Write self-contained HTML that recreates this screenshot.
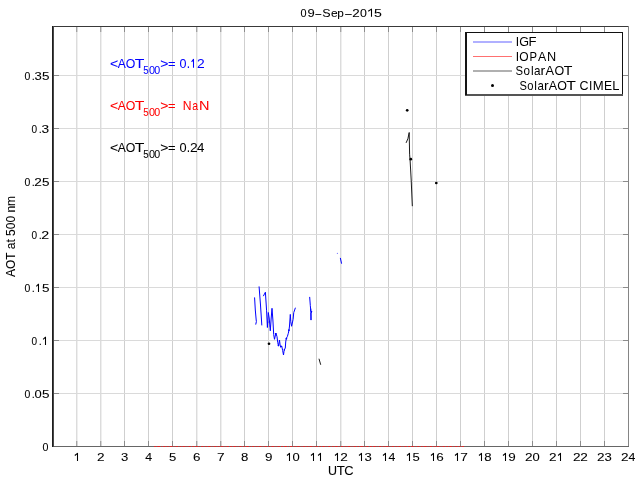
<!DOCTYPE html><html><head><meta charset="utf-8"><style>html,body{margin:0;padding:0;background:#fff;width:640px;height:480px;overflow:hidden}svg{display:block;will-change:transform}text{font-family:"Liberation Sans",sans-serif}</style></head><body>
<svg width="640" height="480" viewBox="0 0 640 480">
<rect x="0" y="0" width="640" height="480" fill="#fff"/>
<rect x="76.0" y="26" width="1" height="420" fill="#dcdcdc"/><rect x="77.0" y="26" width="1" height="420" fill="#efefef"/>
<rect x="100.0" y="26" width="1" height="420" fill="#dcdcdc"/><rect x="101.0" y="26" width="1" height="420" fill="#efefef"/>
<line x1="124.5" y1="26" x2="124.5" y2="446" stroke="#cfcfcf" stroke-width="1"/>
<line x1="148.5" y1="26" x2="148.5" y2="446" stroke="#cfcfcf" stroke-width="1"/>
<line x1="172.5" y1="26" x2="172.5" y2="446" stroke="#cfcfcf" stroke-width="1"/>
<rect x="196.0" y="26" width="1" height="420" fill="#dcdcdc"/><rect x="197.0" y="26" width="1" height="420" fill="#efefef"/>
<rect x="220.0" y="26" width="1" height="420" fill="#dcdcdc"/><rect x="221.0" y="26" width="1" height="420" fill="#efefef"/>
<line x1="244.5" y1="26" x2="244.5" y2="446" stroke="#cfcfcf" stroke-width="1"/>
<line x1="268.5" y1="26" x2="268.5" y2="446" stroke="#cfcfcf" stroke-width="1"/>
<line x1="292.5" y1="26" x2="292.5" y2="446" stroke="#cfcfcf" stroke-width="1"/>
<line x1="316.5" y1="26" x2="316.5" y2="446" stroke="#cfcfcf" stroke-width="1"/>
<rect x="340.0" y="26" width="1" height="420" fill="#dcdcdc"/><rect x="341.0" y="26" width="1" height="420" fill="#efefef"/>
<line x1="364.5" y1="26" x2="364.5" y2="446" stroke="#cfcfcf" stroke-width="1"/>
<line x1="388.5" y1="26" x2="388.5" y2="446" stroke="#cfcfcf" stroke-width="1"/>
<line x1="412.5" y1="26" x2="412.5" y2="446" stroke="#cfcfcf" stroke-width="1"/>
<line x1="436.5" y1="26" x2="436.5" y2="446" stroke="#cfcfcf" stroke-width="1"/>
<line x1="460.5" y1="26" x2="460.5" y2="446" stroke="#cfcfcf" stroke-width="1"/>
<line x1="484.5" y1="26" x2="484.5" y2="446" stroke="#cfcfcf" stroke-width="1"/>
<line x1="508.5" y1="26" x2="508.5" y2="446" stroke="#cfcfcf" stroke-width="1"/>
<line x1="532.5" y1="26" x2="532.5" y2="446" stroke="#cfcfcf" stroke-width="1"/>
<line x1="556.5" y1="26" x2="556.5" y2="446" stroke="#cfcfcf" stroke-width="1"/>
<line x1="580.5" y1="26" x2="580.5" y2="446" stroke="#cfcfcf" stroke-width="1"/>
<line x1="604.5" y1="26" x2="604.5" y2="446" stroke="#cfcfcf" stroke-width="1"/>
<line x1="53" y1="393.5" x2="628" y2="393.5" stroke="#dadada" stroke-width="1"/>
<line x1="53" y1="340.5" x2="628" y2="340.5" stroke="#dadada" stroke-width="1"/>
<line x1="53" y1="287.5" x2="628" y2="287.5" stroke="#dadada" stroke-width="1"/>
<line x1="53" y1="234.5" x2="628" y2="234.5" stroke="#dadada" stroke-width="1"/>
<line x1="53" y1="181.5" x2="628" y2="181.5" stroke="#dadada" stroke-width="1"/>
<line x1="53" y1="128.5" x2="628" y2="128.5" stroke="#dadada" stroke-width="1"/>
<line x1="53" y1="75.5" x2="628" y2="75.5" stroke="#dadada" stroke-width="1"/>
<rect x="76.0" y="27" width="1" height="5" fill="#a4a4a4"/><rect x="77.0" y="27" width="1" height="5" fill="#d6d6d6"/>
<rect x="76.0" y="441" width="1" height="5" fill="#a4a4a4"/><rect x="77.0" y="441" width="1" height="5" fill="#d6d6d6"/>
<rect x="100.0" y="27" width="1" height="5" fill="#a4a4a4"/><rect x="101.0" y="27" width="1" height="5" fill="#d6d6d6"/>
<rect x="100.0" y="441" width="1" height="5" fill="#a4a4a4"/><rect x="101.0" y="441" width="1" height="5" fill="#d6d6d6"/>
<line x1="124.5" y1="27" x2="124.5" y2="32" stroke="#8c8c8c" stroke-width="1"/>
<line x1="124.5" y1="441" x2="124.5" y2="446" stroke="#8c8c8c" stroke-width="1"/>
<line x1="148.5" y1="27" x2="148.5" y2="32" stroke="#8c8c8c" stroke-width="1"/>
<line x1="148.5" y1="441" x2="148.5" y2="446" stroke="#8c8c8c" stroke-width="1"/>
<line x1="172.5" y1="27" x2="172.5" y2="32" stroke="#8c8c8c" stroke-width="1"/>
<line x1="172.5" y1="441" x2="172.5" y2="446" stroke="#8c8c8c" stroke-width="1"/>
<rect x="196.0" y="27" width="1" height="5" fill="#a4a4a4"/><rect x="197.0" y="27" width="1" height="5" fill="#d6d6d6"/>
<rect x="196.0" y="441" width="1" height="5" fill="#a4a4a4"/><rect x="197.0" y="441" width="1" height="5" fill="#d6d6d6"/>
<rect x="220.0" y="27" width="1" height="5" fill="#a4a4a4"/><rect x="221.0" y="27" width="1" height="5" fill="#d6d6d6"/>
<rect x="220.0" y="441" width="1" height="5" fill="#a4a4a4"/><rect x="221.0" y="441" width="1" height="5" fill="#d6d6d6"/>
<line x1="244.5" y1="27" x2="244.5" y2="32" stroke="#8c8c8c" stroke-width="1"/>
<line x1="244.5" y1="441" x2="244.5" y2="446" stroke="#8c8c8c" stroke-width="1"/>
<line x1="268.5" y1="27" x2="268.5" y2="32" stroke="#8c8c8c" stroke-width="1"/>
<line x1="268.5" y1="441" x2="268.5" y2="446" stroke="#8c8c8c" stroke-width="1"/>
<line x1="292.5" y1="27" x2="292.5" y2="32" stroke="#8c8c8c" stroke-width="1"/>
<line x1="292.5" y1="441" x2="292.5" y2="446" stroke="#8c8c8c" stroke-width="1"/>
<line x1="316.5" y1="27" x2="316.5" y2="32" stroke="#8c8c8c" stroke-width="1"/>
<line x1="316.5" y1="441" x2="316.5" y2="446" stroke="#8c8c8c" stroke-width="1"/>
<rect x="340.0" y="27" width="1" height="5" fill="#a4a4a4"/><rect x="341.0" y="27" width="1" height="5" fill="#d6d6d6"/>
<rect x="340.0" y="441" width="1" height="5" fill="#a4a4a4"/><rect x="341.0" y="441" width="1" height="5" fill="#d6d6d6"/>
<line x1="364.5" y1="27" x2="364.5" y2="32" stroke="#8c8c8c" stroke-width="1"/>
<line x1="364.5" y1="441" x2="364.5" y2="446" stroke="#8c8c8c" stroke-width="1"/>
<line x1="388.5" y1="27" x2="388.5" y2="32" stroke="#8c8c8c" stroke-width="1"/>
<line x1="388.5" y1="441" x2="388.5" y2="446" stroke="#8c8c8c" stroke-width="1"/>
<line x1="412.5" y1="27" x2="412.5" y2="32" stroke="#8c8c8c" stroke-width="1"/>
<line x1="412.5" y1="441" x2="412.5" y2="446" stroke="#8c8c8c" stroke-width="1"/>
<line x1="436.5" y1="27" x2="436.5" y2="32" stroke="#8c8c8c" stroke-width="1"/>
<line x1="436.5" y1="441" x2="436.5" y2="446" stroke="#8c8c8c" stroke-width="1"/>
<line x1="460.5" y1="27" x2="460.5" y2="32" stroke="#8c8c8c" stroke-width="1"/>
<line x1="460.5" y1="441" x2="460.5" y2="446" stroke="#8c8c8c" stroke-width="1"/>
<line x1="484.5" y1="27" x2="484.5" y2="32" stroke="#8c8c8c" stroke-width="1"/>
<line x1="484.5" y1="441" x2="484.5" y2="446" stroke="#8c8c8c" stroke-width="1"/>
<line x1="508.5" y1="27" x2="508.5" y2="32" stroke="#8c8c8c" stroke-width="1"/>
<line x1="508.5" y1="441" x2="508.5" y2="446" stroke="#8c8c8c" stroke-width="1"/>
<line x1="532.5" y1="27" x2="532.5" y2="32" stroke="#8c8c8c" stroke-width="1"/>
<line x1="532.5" y1="441" x2="532.5" y2="446" stroke="#8c8c8c" stroke-width="1"/>
<line x1="556.5" y1="27" x2="556.5" y2="32" stroke="#8c8c8c" stroke-width="1"/>
<line x1="556.5" y1="441" x2="556.5" y2="446" stroke="#8c8c8c" stroke-width="1"/>
<line x1="580.5" y1="27" x2="580.5" y2="32" stroke="#8c8c8c" stroke-width="1"/>
<line x1="580.5" y1="441" x2="580.5" y2="446" stroke="#8c8c8c" stroke-width="1"/>
<line x1="604.5" y1="27" x2="604.5" y2="32" stroke="#8c8c8c" stroke-width="1"/>
<line x1="604.5" y1="441" x2="604.5" y2="446" stroke="#8c8c8c" stroke-width="1"/>
<line x1="54" y1="393.5" x2="59" y2="393.5" stroke="#8c8c8c" stroke-width="1"/>
<line x1="623" y1="393.5" x2="628" y2="393.5" stroke="#8c8c8c" stroke-width="1"/>
<line x1="54" y1="340.5" x2="59" y2="340.5" stroke="#8c8c8c" stroke-width="1"/>
<line x1="623" y1="340.5" x2="628" y2="340.5" stroke="#8c8c8c" stroke-width="1"/>
<line x1="54" y1="287.5" x2="59" y2="287.5" stroke="#8c8c8c" stroke-width="1"/>
<line x1="623" y1="287.5" x2="628" y2="287.5" stroke="#8c8c8c" stroke-width="1"/>
<line x1="54" y1="234.5" x2="59" y2="234.5" stroke="#8c8c8c" stroke-width="1"/>
<line x1="623" y1="234.5" x2="628" y2="234.5" stroke="#8c8c8c" stroke-width="1"/>
<line x1="54" y1="181.5" x2="59" y2="181.5" stroke="#8c8c8c" stroke-width="1"/>
<line x1="623" y1="181.5" x2="628" y2="181.5" stroke="#8c8c8c" stroke-width="1"/>
<line x1="54" y1="128.5" x2="59" y2="128.5" stroke="#8c8c8c" stroke-width="1"/>
<line x1="623" y1="128.5" x2="628" y2="128.5" stroke="#8c8c8c" stroke-width="1"/>
<line x1="54" y1="75.5" x2="59" y2="75.5" stroke="#8c8c8c" stroke-width="1"/>
<line x1="623" y1="75.5" x2="628" y2="75.5" stroke="#8c8c8c" stroke-width="1"/>
<text transform="translate(114.0,67.8) scale(1.166,1)" x="-3.51" font-size="12" fill="#0000ff" stroke="#0000ff" stroke-width="0.04">&lt;</text><text transform="translate(121.8,67.8) scale(1.005,1)" x="-4.0" font-size="12" fill="#0000ff" stroke="#0000ff" stroke-width="0.04">A</text><text transform="translate(130.5,67.8) scale(1.025,1)" x="-4.66" font-size="12" fill="#0000ff" stroke="#0000ff" stroke-width="0.04">O</text><text transform="translate(139.65,67.8) scale(1.312,1)" x="-3.66" font-size="12" fill="#0000ff" stroke="#0000ff" stroke-width="0.04">T</text><text transform="translate(146.07,73.89999999999999) scale(0.981,1)" x="-2.77" font-size="10" fill="#0000ff" stroke="#0000ff" stroke-width="0.04">5</text><text transform="translate(152.0,73.89999999999999) scale(1.088,1)" x="-2.78" font-size="10" fill="#0000ff" stroke="#0000ff" stroke-width="0.04">0</text><text transform="translate(157.15,73.89999999999999) scale(1.067,1)" x="-2.78" font-size="10" fill="#0000ff" stroke="#0000ff" stroke-width="0.04">0</text><text transform="translate(164.4,67.8) scale(1.166,1)" x="-3.51" font-size="12" fill="#0000ff" stroke="#0000ff" stroke-width="0.04">&gt;</text><text transform="translate(171.85,67.8) scale(1.081,1)" x="-3.5" font-size="12" fill="#0000ff" stroke="#0000ff" stroke-width="0.04">=</text><text transform="translate(183.0,67.8) scale(1.046,1)" x="-3.34" font-size="12" fill="#0000ff" stroke="#0000ff" stroke-width="0.04">0</text><text transform="translate(188.45,67.8) scale(1,1)" x="-1.67" font-size="12" fill="#0000ff" stroke="#0000ff" stroke-width="0.04">.</text><path d="M191.6 61.8 L193.5 59.4 L193.5 67.8" fill="none" stroke="#0000ff" stroke-width="1.05" stroke-linejoin="round" stroke-linecap="butt"/><text transform="translate(200.95,67.8) scale(1.152,1)" x="-3.34" font-size="12" fill="#0000ff" stroke="#0000ff" stroke-width="0.04">2</text>
<text transform="translate(114.0,109.8) scale(1.166,1)" x="-3.51" font-size="12" fill="#ff0000" stroke="#ff0000" stroke-width="0.04">&lt;</text><text transform="translate(121.8,109.8) scale(1.005,1)" x="-4.0" font-size="12" fill="#ff0000" stroke="#ff0000" stroke-width="0.04">A</text><text transform="translate(130.5,109.8) scale(1.025,1)" x="-4.66" font-size="12" fill="#ff0000" stroke="#ff0000" stroke-width="0.04">O</text><text transform="translate(139.65,109.8) scale(1.312,1)" x="-3.66" font-size="12" fill="#ff0000" stroke="#ff0000" stroke-width="0.04">T</text><text transform="translate(146.07,115.89999999999999) scale(0.981,1)" x="-2.77" font-size="10" fill="#ff0000" stroke="#ff0000" stroke-width="0.04">5</text><text transform="translate(152.0,115.89999999999999) scale(1.088,1)" x="-2.78" font-size="10" fill="#ff0000" stroke="#ff0000" stroke-width="0.04">0</text><text transform="translate(157.15,115.89999999999999) scale(1.067,1)" x="-2.78" font-size="10" fill="#ff0000" stroke="#ff0000" stroke-width="0.04">0</text><text transform="translate(164.4,109.8) scale(1.166,1)" x="-3.51" font-size="12" fill="#ff0000" stroke="#ff0000" stroke-width="0.04">&gt;</text><text transform="translate(171.85,109.8) scale(1.081,1)" x="-3.5" font-size="12" fill="#ff0000" stroke="#ff0000" stroke-width="0.04">=</text><text transform="translate(187.2,109.8) scale(1.014,1)" x="-4.34" font-size="12" fill="#ff0000" stroke="#ff0000" stroke-width="0.04">N</text><text transform="translate(195.3,109.8) scale(0.876,1)" x="-3.59" font-size="12" fill="#ff0000" stroke="#ff0000" stroke-width="0.04">a</text><text transform="translate(204.25,109.8) scale(1.208,1)" x="-4.34" font-size="12" fill="#ff0000" stroke="#ff0000" stroke-width="0.04">N</text>
<text transform="translate(114.0,151.8) scale(1.166,1)" x="-3.51" font-size="12" fill="#000" stroke="#000" stroke-width="0.04">&lt;</text><text transform="translate(121.8,151.8) scale(1.005,1)" x="-4.0" font-size="12" fill="#000" stroke="#000" stroke-width="0.04">A</text><text transform="translate(130.5,151.8) scale(1.025,1)" x="-4.66" font-size="12" fill="#000" stroke="#000" stroke-width="0.04">O</text><text transform="translate(139.65,151.8) scale(1.312,1)" x="-3.66" font-size="12" fill="#000" stroke="#000" stroke-width="0.04">T</text><text transform="translate(146.07,157.9) scale(0.981,1)" x="-2.77" font-size="10" fill="#000" stroke="#000" stroke-width="0.04">5</text><text transform="translate(152.0,157.9) scale(1.088,1)" x="-2.78" font-size="10" fill="#000" stroke="#000" stroke-width="0.04">0</text><text transform="translate(157.15,157.9) scale(1.067,1)" x="-2.78" font-size="10" fill="#000" stroke="#000" stroke-width="0.04">0</text><text transform="translate(164.4,151.8) scale(1.166,1)" x="-3.51" font-size="12" fill="#000" stroke="#000" stroke-width="0.04">&gt;</text><text transform="translate(171.85,151.8) scale(1.081,1)" x="-3.5" font-size="12" fill="#000" stroke="#000" stroke-width="0.04">=</text><text transform="translate(182.95,151.8) scale(1.063,1)" x="-3.34" font-size="12" fill="#000" stroke="#000" stroke-width="0.04">0</text><text transform="translate(188.45,151.8) scale(1,1)" x="-1.67" font-size="12" fill="#000" stroke="#000" stroke-width="0.04">.</text><text transform="translate(193.75,151.8) scale(1.152,1)" x="-3.34" font-size="12" fill="#000" stroke="#000" stroke-width="0.04">2</text><text transform="translate(200.75,151.8) scale(1.108,1)" x="-3.3" font-size="12" fill="#000" stroke="#000" stroke-width="0.04">4</text>
<polyline points="254.6,297.8 255.3,310 256.2,320 256.4,321.5 255.8,324.2" fill="none" stroke="#0000ff" stroke-width="1.0" stroke-linejoin="round" stroke-linecap="round"/>
<polyline points="259.1,286.8 260.5,305 261.8,325" fill="none" stroke="#0000ff" stroke-width="1.0" stroke-linejoin="round" stroke-linecap="round"/>
<polyline points="263.5,295.8 265.4,292.2 266.6,310.8 267.4,327.5 268.3,312.5 269.2,318 270.3,330.8 271.2,318 272,308.3 272.9,320 273.7,334.7 274.5,339.3 275.9,333 277,336.7 277.7,342.3 278.5,346 279.5,340 280.1,345 280.7,347.3 281.7,346 282.7,350.7 283.5,355 284,351.3 284.7,349 285.3,348 285.7,342 286.3,338.3 287.3,336.7 288.3,333.3 289,330 289.5,326 290.3,314.4 290.8,321.7 291.6,326.25 293.1,319.4 293.75,312.5 295.3,308.1" fill="none" stroke="#0000ff" stroke-width="1.0" stroke-linejoin="round" stroke-linecap="round"/>
<polyline points="309.7,297.3 310.3,305.3 310.8,311.3 312,311.7 311,313 311,319.7" fill="none" stroke="#0000ff" stroke-width="1.0" stroke-linejoin="round" stroke-linecap="round"/>
<polyline points="310.8,309 311,319.7" fill="none" stroke="#0000ff" stroke-width="1.0" stroke-linejoin="round" stroke-linecap="round"/>
<polyline points="340.4,258.3 341.5,263.3" fill="none" stroke="#0000ff" stroke-width="1.0" stroke-linejoin="round" stroke-linecap="round"/>
<circle cx="275.6" cy="333.8" r="0.8" fill="#0000ff"/>
<circle cx="278.4" cy="345.6" r="0.8" fill="#0000ff"/>
<circle cx="281.2" cy="346.3" r="0.7" fill="#0000ff"/>
<circle cx="284.3" cy="349.8" r="0.7" fill="#0000ff"/>
<circle cx="286.4" cy="338.6" r="0.85" fill="#0000ff"/>
<circle cx="288.9" cy="330.2" r="0.85" fill="#0000ff"/>
<circle cx="270.2" cy="326" r="0.6" fill="#0000ff"/>
<circle cx="268" cy="322" r="0.6" fill="#0000ff"/>
<circle cx="337.4" cy="253.4" r="0.6" fill="#8080ff"/>
<polyline points="406.25,142.5 407.9,138.75 409.2,132.5 409.6,154.2 410.2,162 411.2,180 412.3,205.8" fill="none" stroke="#000" stroke-width="0.9" stroke-linejoin="round" stroke-linecap="round"/>
<polyline points="319.1,359.1 320.6,364.4" fill="none" stroke="#000" stroke-width="0.9" stroke-linejoin="round" stroke-linecap="round"/>
<circle cx="407.2" cy="110.3" r="1.35" fill="#000"/>
<circle cx="410.8" cy="159.2" r="1.35" fill="#000"/>
<circle cx="436.3" cy="183" r="1.35" fill="#000"/>
<circle cx="269" cy="343.75" r="1.35" fill="#000"/>
<line x1="629" y1="26.5" x2="53" y2="26.5" stroke="#393939" stroke-width="1"/>
<line x1="628.5" y1="26" x2="628.5" y2="447" stroke="#858585" stroke-width="1"/>
<line x1="52" y1="446.5" x2="629" y2="446.5" stroke="#666" stroke-width="1"/>
<rect x="52" y="26" width="1" height="421" fill="#1e1e1e"/><rect x="53" y="26" width="1" height="421" fill="#484848"/>
<line x1="154" y1="446.5" x2="464" y2="446.5" stroke="#d82828" stroke-width="1" stroke-dasharray="2 1 3 1 1 1 2.5 1.2"/>
<text transform="translate(45.45,450.9) scale(0.97,1)" x="-3.06" font-size="11" fill="#000" stroke="#000" stroke-width="0.07">0</text>
<text transform="translate(27.5,397.9) scale(0.951,1)" x="-3.06" font-size="11" fill="#000" stroke="#000" stroke-width="0.07">0</text><text transform="translate(33.3,397.9) scale(1,1)" x="-1.53" font-size="11" fill="#000" stroke="#000" stroke-width="0.07">.</text><text transform="translate(38.1,397.9) scale(1.179,1)" x="-3.06" font-size="11" fill="#000" stroke="#000" stroke-width="0.07">0</text><text transform="translate(45.8,397.9) scale(1.227,1)" x="-3.05" font-size="11" fill="#000" stroke="#000" stroke-width="0.07">5</text>
<text transform="translate(34.2,344.9) scale(0.913,1)" x="-3.06" font-size="11" fill="#000" stroke="#000" stroke-width="0.07">0</text><text transform="translate(40.3,344.9) scale(1,1)" x="-1.53" font-size="11" fill="#000" stroke="#000" stroke-width="0.07">.</text><path d="M43.1 339.4 L45.5 337.2 L45.5 344.9" fill="none" stroke="#000" stroke-width="1.05" stroke-linejoin="round" stroke-linecap="butt"/>
<text transform="translate(27.5,291.9) scale(0.951,1)" x="-3.06" font-size="11" fill="#000" stroke="#000" stroke-width="0.07">0</text><text transform="translate(33.3,291.9) scale(1,1)" x="-1.53" font-size="11" fill="#000" stroke="#000" stroke-width="0.07">.</text><path d="M36.3 286.4 L38.5 284.2 L38.5 291.9" fill="none" stroke="#000" stroke-width="1.05" stroke-linejoin="round" stroke-linecap="butt"/><text transform="translate(45.8,291.9) scale(1.227,1)" x="-3.05" font-size="11" fill="#000" stroke="#000" stroke-width="0.07">5</text>
<text transform="translate(34.2,238.9) scale(0.913,1)" x="-3.06" font-size="11" fill="#000" stroke="#000" stroke-width="0.07">0</text><text transform="translate(40.3,238.9) scale(1,1)" x="-1.53" font-size="11" fill="#000" stroke="#000" stroke-width="0.07">.</text><text transform="translate(45.15,238.9) scale(1.297,1)" x="-3.06" font-size="11" fill="#000" stroke="#000" stroke-width="0.07">2</text>
<text transform="translate(27.5,185.9) scale(0.951,1)" x="-3.06" font-size="11" fill="#000" stroke="#000" stroke-width="0.07">0</text><text transform="translate(33.3,185.9) scale(1,1)" x="-1.53" font-size="11" fill="#000" stroke="#000" stroke-width="0.07">.</text><text transform="translate(38.1,185.9) scale(1.237,1)" x="-3.06" font-size="11" fill="#000" stroke="#000" stroke-width="0.07">2</text><text transform="translate(45.8,185.9) scale(1.227,1)" x="-3.05" font-size="11" fill="#000" stroke="#000" stroke-width="0.07">5</text>
<text transform="translate(34.2,132.9) scale(0.913,1)" x="-3.06" font-size="11" fill="#000" stroke="#000" stroke-width="0.07">0</text><text transform="translate(40.3,132.9) scale(1,1)" x="-1.53" font-size="11" fill="#000" stroke="#000" stroke-width="0.07">.</text><text transform="translate(45.15,132.9) scale(1.246,1)" x="-3.03" font-size="11" fill="#000" stroke="#000" stroke-width="0.07">3</text>
<text transform="translate(27.5,79.9) scale(0.951,1)" x="-3.06" font-size="11" fill="#000" stroke="#000" stroke-width="0.07">0</text><text transform="translate(33.3,79.9) scale(1,1)" x="-1.53" font-size="11" fill="#000" stroke="#000" stroke-width="0.07">.</text><text transform="translate(38.1,79.9) scale(1.189,1)" x="-3.03" font-size="11" fill="#000" stroke="#000" stroke-width="0.07">3</text><text transform="translate(45.8,79.9) scale(1.227,1)" x="-3.05" font-size="11" fill="#000" stroke="#000" stroke-width="0.07">5</text>
<path d="M74.8 455.5 L77.5 453.3 L77.5 461" fill="none" stroke="#000" stroke-width="1.05" stroke-linejoin="round" stroke-linecap="butt"/>
<text transform="translate(100.7,461) scale(1.237,1)" x="-3.06" font-size="11" fill="#000" stroke="#000" stroke-width="0.07">2</text>
<text transform="translate(124.7,461) scale(1.189,1)" x="-3.03" font-size="11" fill="#000" stroke="#000" stroke-width="0.07">3</text>
<text transform="translate(148.7,461) scale(1.119,1)" x="-3.02" font-size="11" fill="#000" stroke="#000" stroke-width="0.07">4</text>
<text transform="translate(172.7,461) scale(1.189,1)" x="-3.05" font-size="11" fill="#000" stroke="#000" stroke-width="0.07">5</text>
<text transform="translate(196.7,461) scale(1.222,1)" x="-3.1" font-size="11" fill="#000" stroke="#000" stroke-width="0.07">6</text>
<text transform="translate(220.7,461) scale(1.24,1)" x="-3.06" font-size="11" fill="#000" stroke="#000" stroke-width="0.07">7</text>
<text transform="translate(244.7,461) scale(1.201,1)" x="-3.06" font-size="11" fill="#000" stroke="#000" stroke-width="0.07">8</text>
<text transform="translate(268.7,461) scale(1.22,1)" x="-3.06" font-size="11" fill="#000" stroke="#000" stroke-width="0.07">9</text>
<path d="M287.0 455.5 L289.5 453.3 L289.5 461" fill="none" stroke="#000" stroke-width="1.05" stroke-linejoin="round" stroke-linecap="butt"/><text transform="translate(296.0,461) scale(1.179,1)" x="-3.06" font-size="11" fill="#000" stroke="#000" stroke-width="0.07">0</text>
<path d="M311.0 455.5 L313.5 453.3 L313.5 461" fill="none" stroke="#000" stroke-width="1.05" stroke-linejoin="round" stroke-linecap="butt"/><path d="M318.1 455.5 L320.5 453.3 L320.5 461" fill="none" stroke="#000" stroke-width="1.05" stroke-linejoin="round" stroke-linecap="butt"/>
<path d="M335.0 455.5 L337.5 453.3 L337.5 461" fill="none" stroke="#000" stroke-width="1.05" stroke-linejoin="round" stroke-linecap="butt"/><text transform="translate(344.0,461) scale(1.237,1)" x="-3.06" font-size="11" fill="#000" stroke="#000" stroke-width="0.07">2</text>
<path d="M359.0 455.5 L361.5 453.3 L361.5 461" fill="none" stroke="#000" stroke-width="1.05" stroke-linejoin="round" stroke-linecap="butt"/><text transform="translate(368.0,461) scale(1.189,1)" x="-3.03" font-size="11" fill="#000" stroke="#000" stroke-width="0.07">3</text>
<path d="M383.0 455.5 L385.5 453.3 L385.5 461" fill="none" stroke="#000" stroke-width="1.05" stroke-linejoin="round" stroke-linecap="butt"/><text transform="translate(392.0,461) scale(1.119,1)" x="-3.02" font-size="11" fill="#000" stroke="#000" stroke-width="0.07">4</text>
<path d="M407.0 455.5 L409.5 453.3 L409.5 461" fill="none" stroke="#000" stroke-width="1.05" stroke-linejoin="round" stroke-linecap="butt"/><text transform="translate(416.0,461) scale(1.189,1)" x="-3.05" font-size="11" fill="#000" stroke="#000" stroke-width="0.07">5</text>
<path d="M431.0 455.5 L433.5 453.3 L433.5 461" fill="none" stroke="#000" stroke-width="1.05" stroke-linejoin="round" stroke-linecap="butt"/><text transform="translate(440.0,461) scale(1.222,1)" x="-3.1" font-size="11" fill="#000" stroke="#000" stroke-width="0.07">6</text>
<path d="M455.0 455.5 L457.5 453.3 L457.5 461" fill="none" stroke="#000" stroke-width="1.05" stroke-linejoin="round" stroke-linecap="butt"/><text transform="translate(464.0,461) scale(1.24,1)" x="-3.06" font-size="11" fill="#000" stroke="#000" stroke-width="0.07">7</text>
<path d="M479.0 455.5 L481.5 453.3 L481.5 461" fill="none" stroke="#000" stroke-width="1.05" stroke-linejoin="round" stroke-linecap="butt"/><text transform="translate(488.0,461) scale(1.201,1)" x="-3.06" font-size="11" fill="#000" stroke="#000" stroke-width="0.07">8</text>
<path d="M503.0 455.5 L505.5 453.3 L505.5 461" fill="none" stroke="#000" stroke-width="1.05" stroke-linejoin="round" stroke-linecap="butt"/><text transform="translate(512.0,461) scale(1.22,1)" x="-3.06" font-size="11" fill="#000" stroke="#000" stroke-width="0.07">9</text>
<text transform="translate(528.9,461) scale(1.237,1)" x="-3.06" font-size="11" fill="#000" stroke="#000" stroke-width="0.07">2</text><text transform="translate(536.0,461) scale(1.179,1)" x="-3.06" font-size="11" fill="#000" stroke="#000" stroke-width="0.07">0</text>
<text transform="translate(552.9,461) scale(1.237,1)" x="-3.06" font-size="11" fill="#000" stroke="#000" stroke-width="0.07">2</text><path d="M558.1 455.5 L560.5 453.3 L560.5 461" fill="none" stroke="#000" stroke-width="1.05" stroke-linejoin="round" stroke-linecap="butt"/>
<text transform="translate(576.9,461) scale(1.237,1)" x="-3.06" font-size="11" fill="#000" stroke="#000" stroke-width="0.07">2</text><text transform="translate(584.0,461) scale(1.237,1)" x="-3.06" font-size="11" fill="#000" stroke="#000" stroke-width="0.07">2</text>
<text transform="translate(600.9,461) scale(1.237,1)" x="-3.06" font-size="11" fill="#000" stroke="#000" stroke-width="0.07">2</text><text transform="translate(608.0,461) scale(1.189,1)" x="-3.03" font-size="11" fill="#000" stroke="#000" stroke-width="0.07">3</text>
<text transform="translate(624.9,461) scale(1.237,1)" x="-3.06" font-size="11" fill="#000" stroke="#000" stroke-width="0.07">2</text><text transform="translate(632.0,461) scale(1.119,1)" x="-3.02" font-size="11" fill="#000" stroke="#000" stroke-width="0.07">4</text>
<text transform="translate(303.5,16.8) scale(0.989,1)" x="-3.06" font-size="11" fill="#000" stroke="#000" stroke-width="0.07">0</text><text transform="translate(311.0,16.8) scale(1.181,1)" x="-3.06" font-size="11" fill="#000" stroke="#000" stroke-width="0.07">9</text><text transform="translate(318.25,16.8) scale(0.933,1)" x="-3.06" font-size="11" fill="#000" stroke="#000" stroke-width="0.07">–</text><text transform="translate(326.4,16.8) scale(1.137,1)" x="-3.67" font-size="11" fill="#000" stroke="#000" stroke-width="0.07">S</text><text transform="translate(334.4,16.8) scale(1.085,1)" x="-3.05" font-size="11" fill="#000" stroke="#000" stroke-width="0.07">e</text><text transform="translate(340.75,16.8) scale(1.071,1)" x="-3.18" font-size="11" fill="#000" stroke="#000" stroke-width="0.07">p</text><text transform="translate(348.45,16.8) scale(1.031,1)" x="-3.06" font-size="11" fill="#000" stroke="#000" stroke-width="0.07">–</text><text transform="translate(356.05,16.8) scale(1.217,1)" x="-3.06" font-size="11" fill="#000" stroke="#000" stroke-width="0.07">2</text><text transform="translate(363.35,16.8) scale(1.122,1)" x="-3.06" font-size="11" fill="#000" stroke="#000" stroke-width="0.07">0</text><path d="M368.2 11.3 L371.5 9.1 L371.5 16.8" fill="none" stroke="#000" stroke-width="1.05" stroke-linejoin="round" stroke-linecap="butt"/><text transform="translate(377.85,16.8) scale(1.285,1)" x="-3.05" font-size="11" fill="#000" stroke="#000" stroke-width="0.07">5</text>
<text transform="translate(332.45,474.8) scale(1.042,1)" x="-4.33" font-size="12" fill="#000" stroke="#000" stroke-width="0.07">U</text><text transform="translate(340.75,474.8) scale(1.105,1)" x="-3.66" font-size="12" fill="#000" stroke="#000" stroke-width="0.07">T</text><text transform="translate(349.1,474.8) scale(1.079,1)" x="-4.41" font-size="12" fill="#000" stroke="#000" stroke-width="0.07">C</text>
<text transform="translate(15,236.5) rotate(-90)" x="0" y="0" font-size="12" text-anchor="middle" fill="#000" stroke="#000" stroke-width="0.07">AOT at 500 nm</text>
<rect x="465" y="32" width="158" height="64" fill="#fff"/>
<rect x="465" y="32" width="158" height="1" fill="#111"/>
<rect x="622" y="32" width="1" height="63" fill="#111"/>
<rect x="465" y="94" width="158" height="2" fill="#555"/>
<rect x="465" y="32" width="2" height="63" fill="#151515"/>
<line x1="473" y1="42" x2="512" y2="42" stroke="#b0b0ff" stroke-width="2"/>
<line x1="473" y1="56.5" x2="512" y2="56.5" stroke="#ff7070" stroke-width="1"/>
<line x1="473" y1="71" x2="512" y2="71" stroke="#b0b0b0" stroke-width="2"/>
<circle cx="492.5" cy="85.5" r="1.5" fill="#000"/>
<text transform="translate(517.45,46) scale(1,1)" x="-1.67" font-size="12" fill="#000" stroke="#000" stroke-width="0.001">I</text><text transform="translate(524.0,46) scale(1.047,1)" x="-4.52" font-size="12" fill="#000" stroke="#000" stroke-width="0.001">G</text><text transform="translate(532.8,46) scale(1.091,1)" x="-3.92" font-size="12" fill="#000" stroke="#000" stroke-width="0.001">F</text>
<text transform="translate(517.45,60.9) scale(1,1)" x="-1.67" font-size="12" fill="#000" stroke="#000" stroke-width="0.001">I</text><text transform="translate(524.0,60.9) scale(1.001,1)" x="-4.66" font-size="12" fill="#000" stroke="#000" stroke-width="0.001">O</text><text transform="translate(533.4,60.9) scale(0.939,1)" x="-4.18" font-size="12" fill="#000" stroke="#000" stroke-width="0.001">P</text><text transform="translate(542.0,60.9) scale(1.031,1)" x="-4.0" font-size="12" fill="#000" stroke="#000" stroke-width="0.001">A</text><text transform="translate(551.55,60.9) scale(1.059,1)" x="-4.34" font-size="12" fill="#000" stroke="#000" stroke-width="0.001">N</text>
<text transform="translate(519.25,75) scale(0.941,1)" x="-4.0" font-size="12" fill="#000" stroke="#000" stroke-width="0.001">S</text><text transform="translate(526.75,75) scale(0.971,1)" x="-3.34" font-size="12" fill="#000" stroke="#000" stroke-width="0.001">o</text><text transform="translate(532.25,75) scale(1,1)" x="-1.34" font-size="12" fill="#000" stroke="#000" stroke-width="0.001">l</text><text transform="translate(537.5,75) scale(0.973,1)" x="-3.59" font-size="12" fill="#000" stroke="#000" stroke-width="0.001">a</text><text transform="translate(543.25,75) scale(1.167,1)" x="-2.3" font-size="12" fill="#000" stroke="#000" stroke-width="0.001">r</text><text transform="translate(549.75,75) scale(1.068,1)" x="-4.0" font-size="12" fill="#000" stroke="#000" stroke-width="0.001">A</text><text transform="translate(559.25,75) scale(1.038,1)" x="-4.66" font-size="12" fill="#000" stroke="#000" stroke-width="0.001">O</text><text transform="translate(568.0,75) scale(1.179,1)" x="-3.66" font-size="12" fill="#000" stroke="#000" stroke-width="0.001">T</text>
<text transform="translate(523.1,90) scale(0.926,1)" x="-4.0" font-size="12" fill="#000" stroke="#000" stroke-width="0.001">S</text><text transform="translate(530.45,90) scale(0.935,1)" x="-3.34" font-size="12" fill="#000" stroke="#000" stroke-width="0.001">o</text><text transform="translate(535.55,90) scale(1,1)" x="-1.34" font-size="12" fill="#000" stroke="#000" stroke-width="0.001">l</text><text transform="translate(540.85,90) scale(0.957,1)" x="-3.59" font-size="12" fill="#000" stroke="#000" stroke-width="0.001">a</text><text transform="translate(546.65,90) scale(1.167,1)" x="-2.3" font-size="12" fill="#000" stroke="#000" stroke-width="0.001">r</text><text transform="translate(552.95,90) scale(1.043,1)" x="-4.0" font-size="12" fill="#000" stroke="#000" stroke-width="0.001">A</text><text transform="translate(562.05,90) scale(1.038,1)" x="-4.66" font-size="12" fill="#000" stroke="#000" stroke-width="0.001">O</text><text transform="translate(571.15,90) scale(1.312,1)" x="-3.66" font-size="12" fill="#000" stroke="#000" stroke-width="0.001">T</text><text transform="translate(583.95,90) scale(1.04,1)" x="-4.41" font-size="12" fill="#000" stroke="#000" stroke-width="0.001">C</text><text transform="translate(590.7,90) scale(1,1)" x="-1.67" font-size="12" fill="#000" stroke="#000" stroke-width="0.001">I</text><text transform="translate(598.2,90) scale(1.096,1)" x="-5.0" font-size="12" fill="#000" stroke="#000" stroke-width="0.001">M</text><text transform="translate(608.2,90) scale(1.015,1)" x="-4.24" font-size="12" fill="#000" stroke="#000" stroke-width="0.001">E</text><text transform="translate(616.05,90) scale(1.077,1)" x="-3.63" font-size="12" fill="#000" stroke="#000" stroke-width="0.001">L</text>
</svg></body></html>
